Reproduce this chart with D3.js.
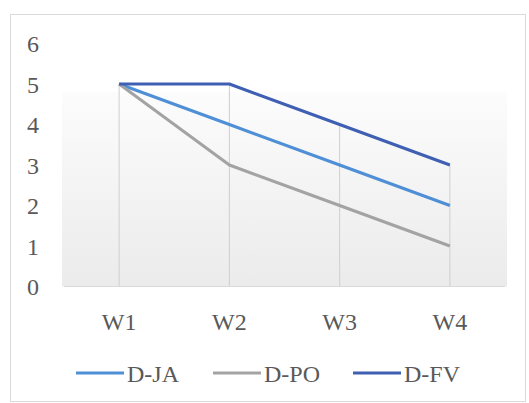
<!DOCTYPE html>
<html>
<head>
<meta charset="utf-8">
<script src="https://cdn.jsdelivr.net/npm/d3@7"></script>
<style>
  html, body { margin: 0; padding: 0; background: #fff; }
  svg { display: block; }
  svg text { font-family: "Liberation Serif", "Times New Roman", Times, serif !important; }
</style>
</head>
<body>
<svg id="chart" width="529" height="403"></svg>
<script>
// Weekly scores for three groups
const categories = ["W1", "W2", "W3", "W4"];
const seriesNames = ["D-JA", "D-PO", "D-FV"];
const valuesJA = [5, 4, 3, 2];
const valuesPO = [5, 3, 2, 1];
const valuesFV = [5, 5, 4, 3];
const yTicks = [0, 1, 2, 3, 4, 5, 6];

const colors = { "D-JA": "#4f8fd6", "D-PO": "#a3a3a3", "D-FV": "#3f5fb3" };
const series = [
  { name: "D-JA", values: valuesJA },
  { name: "D-PO", values: valuesPO },
  { name: "D-FV", values: valuesFV }
];

const serif = "'Liberation Serif', 'Times New Roman', Times, serif";
const svg = d3.select("#chart");
const textColor = "#595959";

// chart area border
svg.append("rect")
  .attr("x", 10.5).attr("y", 14.5)
  .attr("width", 515).attr("height", 387)
  .attr("fill", "#fff")
  .attr("stroke", "#d9d9d9").attr("stroke-width", 1);

const x = d3.scaleBand().domain(categories).range([64, 505]);
const y = d3.scaleLinear().domain([0, 6]).range([286.5, 43.5]);
const cx = c => x(c) + x.bandwidth() / 2;

// plot-area gradient fill
const defs = svg.append("defs");
const grad = defs.append("linearGradient")
  .attr("id", "plotFill").attr("x1", 0).attr("y1", 0).attr("x2", 0).attr("y2", 1);
grad.append("stop").attr("offset", "0%").attr("stop-color", "#fcfcfc");
grad.append("stop").attr("offset", "100%").attr("stop-color", "#ebebeb");

svg.append("rect")
  .attr("x", 62).attr("y", 92)
  .attr("width", 445).attr("height", y(0) - 92)
  .attr("fill", "url(#plotFill)");

// drop lines from the highest point of each category down to zero
svg.append("g").selectAll("line")
  .data(categories)
  .join("line")
  .attr("x1", d => cx(d)).attr("x2", d => cx(d))
  .attr("y1", (d, i) => y(d3.max(series, s => s.values[i])))
  .attr("y2", y(0))
  .attr("stroke", "#cfcfcf").attr("stroke-width", 1);

// horizontal category axis line
svg.append("line")
  .attr("x1", x.range()[0]).attr("x2", x.range()[1])
  .attr("y1", y(0)).attr("y2", y(0))
  .attr("stroke", "#d9d9d9").attr("stroke-width", 1);

// value axis labels
const yAxis = svg.append("g")
  .attr("transform", "translate(39,0)")
  .call(d3.axisLeft(y).tickValues(yTicks).tickSize(0).tickPadding(0).tickFormat(d3.format("d")));
yAxis.attr("font-family", serif).attr("font-size", 24);
yAxis.select(".domain").remove();
yAxis.selectAll("text")
  .attr("fill", textColor)
  .attr("dy", "0.35em");

// category axis labels
const xAxis = svg.append("g")
  .attr("transform", `translate(0,${y(0)})`)
  .call(d3.axisBottom(x).tickSize(0).tickPadding(0));
xAxis.attr("font-family", serif).attr("font-size", 24);
xAxis.select(".domain").remove();
xAxis.selectAll("text")
  .attr("fill", textColor)
  .attr("y", 43)
  .attr("dy", 0);

// series lines
const line = d3.line()
  .x((d, i) => cx(categories[i]))
  .y(d => y(d));

svg.append("g").selectAll("path")
  .data(series)
  .join("path")
  .attr("d", d => line(d.values))
  .attr("fill", "none")
  .attr("stroke", d => colors[d.name])
  .attr("stroke-width", 3)
  .attr("stroke-linejoin", "round");

// legend
const legendX = [76, 213, 353];
const legend = svg.append("g")
  .attr("font-family", serif).attr("font-size", 24)
  .selectAll("g")
  .data(seriesNames)
  .join("g")
  .attr("transform", (d, i) => `translate(${legendX[i]},373)`);
legend.append("line")
  .attr("x1", 0).attr("x2", 48)
  .attr("y1", 0).attr("y2", 0)
  .attr("stroke", d => colors[d])
  .attr("stroke-width", 3);
legend.append("text")
  .attr("x", 51).attr("y", 9)
  .attr("fill", textColor)
  .text(d => d);
</script>
</body>
</html>
